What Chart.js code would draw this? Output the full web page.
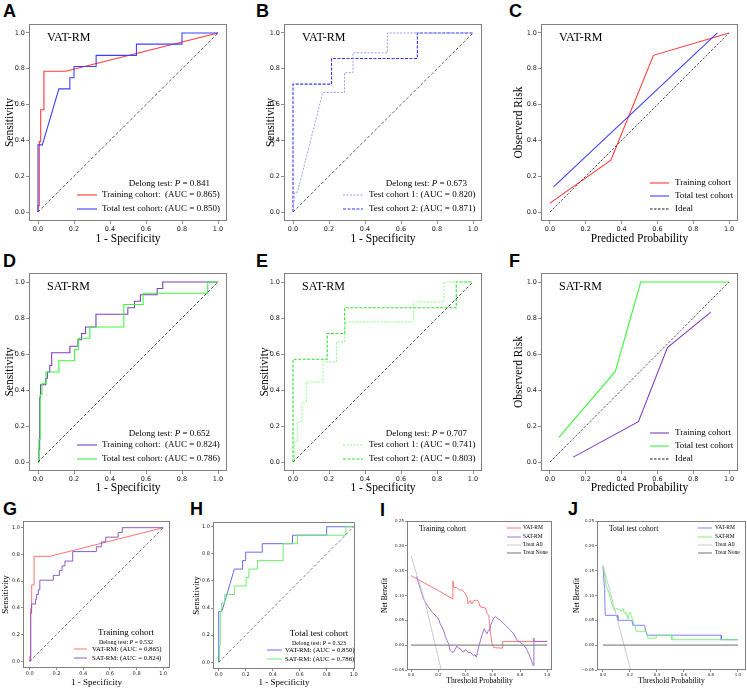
<!DOCTYPE html>
<html><head><meta charset="utf-8">
<script src="https://cdn.jsdelivr.net/npm/chart.js@4.4.1/dist/chart.umd.min.js"></script>
<style>
html,body{margin:0;padding:0;background:#fff;}
body{width:747px;height:688px;position:relative;overflow:hidden;}
canvas{position:absolute;}
.lt{position:absolute;font-family:"Liberation Sans",Arial,sans-serif;font-weight:bold;font-size:18px;line-height:18px;color:#000;}
</style></head><body>
<div class="lt" style="left:3px;top:1.6px">A</div>
<div class="lt" style="left:256px;top:1.6px">B</div>
<div class="lt" style="left:509px;top:1.6px">C</div>
<div class="lt" style="left:3px;top:252px">D</div>
<div class="lt" style="left:256px;top:252px">E</div>
<div class="lt" style="left:509px;top:252px">F</div>
<div class="lt" style="left:3px;top:500px">G</div>
<div class="lt" style="left:190px;top:500px">H</div>
<div class="lt" style="left:380px;top:501px">I</div>
<div class="lt" style="left:568px;top:500px">J</div>
<script>
// ---------- tick labels ----------
const rocTicks = [0, 0.2, 0.4, 0.6, 0.8, 1.0];
const rocTickLabels = ['0.0', '0.2', '0.4', '0.6', '0.8', '1.0'];
const nbTicks = [-0.05, 0, 0.05, 0.10, 0.15, 0.20, 0.25];
const nbTickLabels = ['\u22120.05', '0.00', '0.05', '0.10', '0.15', '0.20', '0.25'];

// ---------- reference diagonal ----------
const diagX = [0, 1];
const diagY = [0, 1];

// ---------- ROC: VAT-RM ----------
const vatTrainFpr = [0, 0, 0.007, 0.007, 0.015, 0.015, 0.033, 0.033, 0.153, 1.0];
const vatTrainTpr = [0, 0.036, 0.036, 0.393, 0.393, 0.571, 0.571, 0.786, 0.786, 1.0];
const vatTestFpr = [0, 0, 0.024, 0.116, 0.177, 0.177, 0.2, 0.2, 0.323, 0.323, 0.547, 0.547, 0.80, 0.80, 1.0];
const vatTestTpr = [0, 0.375, 0.375, 0.6875, 0.6875, 0.75, 0.75, 0.8125, 0.8125, 0.875, 0.875, 0.9375, 0.9375, 1.0, 1.0];
const vatTest1Fpr = [0, 0.01, 0.025, 0.165, 0.286, 0.286, 0.333, 0.333, 0.524, 0.524, 1.0];
const vatTest1Tpr = [0, 0.111, 0.111, 0.667, 0.667, 0.778, 0.778, 0.889, 0.889, 1.0, 1.0];
const vatTest2Fpr = [0, 0, 0.214, 0.214, 0.691, 0.691, 1.0];
const vatTest2Tpr = [0, 0.714, 0.714, 0.857, 0.857, 1.0, 1.0];

// ---------- ROC: SAT-RM ----------
const satTrainFpr = [0, 0.005, 0.005, 0.009, 0.009, 0.014, 0.014, 0.043, 0.043, 0.052, 0.052, 0.065, 0.065, 0.076, 0.076, 0.177, 0.177, 0.222, 0.222, 0.242, 0.242, 0.264, 0.264, 0.322, 0.322, 0.499, 0.499, 0.536, 0.536, 0.569, 0.569, 0.662, 0.662, 0.693, 0.693, 1.0];
const satTrainTpr = [0, 0, 0.071, 0.071, 0.357, 0.357, 0.429, 0.429, 0.464, 0.464, 0.5, 0.5, 0.536, 0.536, 0.607, 0.607, 0.643, 0.643, 0.679, 0.679, 0.714, 0.714, 0.75, 0.75, 0.821, 0.821, 0.857, 0.857, 0.893, 0.893, 0.929, 0.929, 0.964, 0.964, 1.0, 1.0];
const satTestFpr = [0, 0.005, 0.005, 0.012, 0.012, 0.022, 0.022, 0.045, 0.045, 0.116, 0.116, 0.203, 0.203, 0.224, 0.224, 0.288, 0.288, 0.477, 0.477, 0.584, 0.584, 0.943, 0.943, 1.0];
const satTestTpr = [0, 0, 0.125, 0.125, 0.375, 0.375, 0.4375, 0.4375, 0.5, 0.5, 0.5625, 0.5625, 0.625, 0.625, 0.6875, 0.6875, 0.75, 0.75, 0.875, 0.875, 0.9375, 0.9375, 1.0, 1.0];
const satTest1Fpr = [0, 0.009, 0.009, 0.024, 0.024, 0.05, 0.05, 0.074, 0.074, 0.167, 0.167, 0.241, 0.241, 0.287, 0.287, 0.67, 0.67, 0.839, 0.839, 1.0];
const satTest1Tpr = [0, 0, 0.111, 0.111, 0.222, 0.222, 0.333, 0.333, 0.444, 0.444, 0.556, 0.556, 0.667, 0.667, 0.778, 0.778, 0.889, 0.889, 1.0, 1.0];
const satTest2Fpr = [0, 0, 0.19, 0.19, 0.287, 0.287, 0.907, 0.907, 1.0];
const satTest2Tpr = [0, 0.571, 0.571, 0.714, 0.714, 0.857, 0.857, 1.0, 1.0];

// ---------- calibration ----------
const vatCalTrainPred = [0, 0.34, 0.578, 1.0];
const vatCalTrainObs = [0.05, 0.29, 0.875, 1.0];
const vatCalTestPred = [0.02, 0.935];
const vatCalTestObs = [0.14, 1.0];
const satCalTrainPred = [0.13, 0.494, 0.656, 0.898];
const satCalTrainObs = [0.027, 0.224, 0.636, 0.833];
const satCalTestPred = [0.05, 0.365, 0.507, 1.0];
const satCalTestObs = [0.137, 0.503, 1.0, 1.0];

// ---------- decision curves: training cohort ----------
const vatTrainNbThr = [0, 0.1, 0.2, 0.307, 0.307, 0.315, 0.337, 0.355, 0.373, 0.393, 0.41, 0.42, 0.435, 0.447, 0.46, 0.472, 0.484, 0.496, 0.509, 0.545, 0.558, 0.57, 0.582, 0.595, 0.607, 0.673, 0.673, 1.0];
const vatTrainNb = [0.14, 0.125, 0.11, 0.093, 0.129, 0.116, 0.116, 0.111, 0.111, 0.106, 0.097, 0.083, 0.09, 0.083, 0.09, 0.09, 0.091, 0.087, 0.077, 0.075, 0.064, 0.06, 0.026, 0.003, -0.005, -0.006, 0.0075, 0.0075];
const satTrainNbThr = [0.04, 0.07, 0.09, 0.103, 0.128, 0.15, 0.165, 0.19, 0.2, 0.214, 0.238, 0.25, 0.263, 0.275, 0.287, 0.3, 0.312, 0.325, 0.337, 0.35, 0.361, 0.375, 0.386, 0.398, 0.41, 0.422, 0.435, 0.447, 0.459, 0.47, 0.479, 0.496, 0.51, 0.521, 0.53, 0.538, 0.548, 0.558, 0.568, 0.577, 0.585, 0.595, 0.607, 0.619, 0.637, 0.656, 0.675, 0.693, 0.712, 0.73, 0.755, 0.779, 0.805, 0.828, 0.848, 0.865, 0.88, 0.897, 0.902, 0.902, 1.0];
const satTrainNb = [0.138, 0.112, 0.094, 0.087, 0.077, 0.068, 0.064, 0.056, 0.054, 0.043, 0.03, 0.02, 0.01, 0.003, -0.011, -0.014, -0.014, -0.008, -0.002, -0.006, -0.007, -0.012, -0.014, -0.009, -0.011, -0.016, -0.014, -0.018, -0.021, -0.019, -0.024, -0.004, 0.01, 0.02, 0.028, 0.033, 0.027, 0.023, 0.03, 0.03, 0.04, 0.047, 0.055, 0.057, 0.053, 0.05, 0.045, 0.04, 0.035, 0.03, 0.022, 0.01, 0.005, 0.0, -0.008, -0.018, -0.028, -0.041, 0.014, 0.0075, 0.0075];
const treatAllTrainThr = [0, 0.1, 0.2, 0.221];
const treatAllTrainNb = [0.18, 0.089, -0.025, -0.05];
const treatNoneThr = [0, 1];
const treatNoneNb = [0, 0];

// ---------- decision curves: total test cohort ----------
const vatTestNbThr = [0, 0.012, 0.017, 0.106, 0.111, 0.215, 0.222, 0.309, 0.314, 0.328, 0.877, 0.877, 1.0];
const vatTestNb = [0.158, 0.114, 0.06, 0.06, 0.05, 0.05, 0.04, 0.04, 0.03, 0.02, 0.02, 0.011, 0.011];
const satTestNbThr = [0, 0.012, 0.025, 0.037, 0.049, 0.062, 0.074, 0.086, 0.099, 0.123, 0.136, 0.148, 0.16, 0.173, 0.185, 0.198, 0.21, 0.222, 0.235, 0.247, 0.321, 0.333, 0.395, 0.395, 0.511, 0.511, 1.0];
const satTestNb = [0.158, 0.142, 0.118, 0.111, 0.101, 0.087, 0.077, 0.07, 0.074, 0.072, 0.068, 0.074, 0.064, 0.066, 0.053, 0.067, 0.06, 0.05, 0.04, 0.028, 0.028, 0.014, 0.014, 0.02, 0.02, 0.011, 0.011];
const treatAllTestThr = [0, 0.205];
const treatAllTestNb = [0.162, -0.05];

// ---------- styling ----------
const SERIF = '"Liberation Serif","Times New Roman",serif';
const SANS = '"DejaVu Sans",sans-serif';
const C = {
  red: '#ff3a3a', blue: '#4040ff', purple: '#7f3fbf', green: '#3cf53c',
  blueLight: '#9c9cff', blueDash: '#3535ff', greenLight: '#8cff8c', greenDash: '#33e033',
  salmon: '#ff7373', purpleG: '#8c5acb', blueH: '#6a6aff', greenH: '#6cef6c',
  redI: '#ff6a6a', purpleI: '#9562d2', blueJ: '#7373ff', greenJ: '#70f070',
  treatAll: '#c4c4c4', treatNone: '#8a8a8a', diag: '#333'
};

function line(xs, ys, color, width, dash) {
  return { data: xs.map((x, i) => ({ x: x, y: ys[i] })), borderColor: color, borderWidth: width,
    borderDash: dash || [], pointRadius: 0, fill: false, tension: 0 };
}
const T = (segs, ax, dx, ay, dy, size, align) => ({ segs, ax, dx, ay, dy, size, align });
const L = (color, dash, width, ax, dx, len, ay, dy) => ({ line: { color, dash, width }, ax, dx, len, ay, dy });
const P = (txt) => [[txt, 0]];
const D = (p) => [['Delong test: ', 0], ['P', 1], [' = ' + p, 0]];

const deco = {
  id: 'deco',
  afterDatasetsDraw(chart) {
    const ctx = chart.ctx, ca = chart.chartArea;
    const items = chart.canvas._deco || [];
    ctx.save();
    ctx.strokeStyle = '#808080'; ctx.lineWidth = 1; ctx.setLineDash([]);
    ctx.strokeRect(ca.left + 0.5, ca.top + 0.5, ca.right - ca.left - 1, ca.bottom - ca.top - 1);
    items.forEach(it => {
      const x = (it.ax === 'r' ? ca.right : ca.left) + it.dx;
      const y = (it.ay === 'b' ? ca.bottom : ca.top) + it.dy;
      if (it.line) {
        ctx.beginPath(); ctx.setLineDash(it.line.dash || []);
        ctx.strokeStyle = it.line.color; ctx.lineWidth = it.line.width;
        ctx.moveTo(x, y); ctx.lineTo(x + it.len, y); ctx.stroke(); ctx.setLineDash([]);
      } else {
        const fonts = it.segs.map(s => (s[1] ? 'italic ' : '') + it.size + 'px ' + SERIF);
        const widths = it.segs.map((s, i) => { ctx.font = fonts[i]; return ctx.measureText(s[0]).width; });
        const total = widths.reduce((a, b) => a + b, 0);
        let sx = it.align === 'right' ? x - total : (it.align === 'center' ? x - total / 2 : x);
        ctx.textBaseline = 'middle'; ctx.textAlign = 'left'; ctx.fillStyle = '#000';
        it.segs.forEach((s, i) => { ctx.font = fonts[i]; ctx.fillText(s[0], sx, y); sx += widths[i]; });
      }
    });
    ctx.restore();
  }
};

const BIG = { tick: 6.5, tickLen: 3, tickPad: 1, title: 11.5, lw: 1.1 };
const SMALL = { tick: 5, tickLen: 2, tickPad: 1, title: 9, lw: 1.0 };
const TINY = { tick: 4, tickLen: 2, tickPad: 1, title: 7.6, lw: 0.9 };

function rocLegend(label, p, n1, c1, d1, n2, c2, d2, lx, tx, tr) {
  return [
    T(P(label), 'l', 18, 't', 14, 12, 'left'),
    T(D(p), 'r', tr, 'b', -37, 9, 'right'),
    L(c1, d1, 1.1, 'r', lx, 20, 'b', -26), T(P(n1), 'r', tx, 'b', -26, 9, 'left'),
    L(c2, d2, 1.1, 'r', lx, 20, 'b', -12), T(P(n2), 'r', tx, 'b', -12, 9, 'left')
  ];
}
function calLegend(label, c1, c2) {
  return [
    T(P(label), 'l', 18, 't', 14, 12, 'left'),
    L(c1, [], 1.1, 'r', -88, 19, 'b', -38), T(P('Training cohort'), 'r', -63, 'b', -38, 9, 'left'),
    L(c2, [], 1.1, 'r', -88, 19, 'b', -25), T(P('Total test cohort'), 'r', -63, 'b', -25, 9, 'left'),
    L('#000', [2.5, 1.5], 0.9, 'r', -88, 19, 'b', -12), T(P('Ideal'), 'r', -63, 'b', -12, 9, 'left')
  ];
}
function cmpLegend(title, p, c1, n1, c2, n2, cx, lx, len, tx) {
  return [
    T(P(title), 'r', cx, 'b', -35, 9, 'center'),
    T(D(p), 'r', cx, 'b', -26, 6, 'center'),
    L(c1, [], 1, 'r', lx, len, 'b', -19), T(P(n1), 'r', tx, 'b', -19, 6.8, 'left'),
    L(c2, [], 1, 'r', lx, len, 'b', -10), T(P(n2), 'r', tx, 'b', -10, 6.8, 'left')
  ];
}
function dcaLegend(title, c1, c2, lx, tx) {
  return [
    T(P(title), 'l', 12, 't', 8, 7.6, 'left'),
    L(c1, [], 0.9, 'r', lx, 14, 't', 7), T(P('VAT-RM'), 'r', tx, 't', 7, 5.5, 'left'),
    L(c2, [], 0.9, 'r', lx, 14, 't', 16), T(P('SAT-RM'), 'r', tx, 't', 16, 5.5, 'left'),
    L(C.treatAll, [], 0.9, 'r', lx, 14, 't', 24), T(P('Treat All'), 'r', tx, 't', 24, 5.5, 'left'),
    L(C.treatNone, [], 1.2, 'r', lx, 14, 't', 32), T(P('Treat None'), 'r', tx, 't', 32, 5.5, 'left')
  ];
}
const diag = (w) => line(diagX, diagY, C.diag, w, [3, 2]);

const panels = [
  { left: 0, top: 0, w: 240, h: 250, box: [29, 24, 227, 221], st: BIG, xr: [-0.05, 1.05], yr: [-0.05, 1.05],
    xTitle: '1 - Specificity', yTitle: 'Sensitivity', xTitleY: 239, yTitleX: 10,
    ds: [diag(0.8), line(vatTestFpr, vatTestTpr, C.blue, 1.1), line(vatTrainFpr, vatTrainTpr, C.red, 1.1)],
    items: rocLegend('VAT-RM', '0.841', 'Training cohort:  (AUC = 0.865)', C.red, [], 'Total test cohort: (AUC = 0.850)', C.blue, [], -150, -125, -17) },
  { left: 245, top: 0, w: 250, h: 250, box: [284, 24, 482, 221], st: BIG, xr: [-0.05, 1.05], yr: [-0.05, 1.05],
    xTitle: '1 - Specificity', yTitle: 'Sensitivity', xTitleY: 239, yTitleX: 271,
    ds: [diag(0.8), line(vatTest1Fpr, vatTest1Tpr, C.blueLight, 1.0, [2, 1.5]), line(vatTest2Fpr, vatTest2Tpr, C.blueDash, 1.1, [3, 1.5])],
    items: rocLegend('VAT-RM', '0.673', 'Test cohort 1: (AUC = 0.820)', C.blueLight, [2, 1.5], 'Test cohort 2: (AUC = 0.871)', C.blueDash, [3, 1.5], -139, -113, -15) },
  { left: 495, top: 0, w: 252, h: 250, box: [541, 24, 738, 221], st: BIG, xr: [-0.05, 1.05], yr: [-0.05, 1.05],
    xTitle: 'Predicted Probability', yTitle: 'Observerd Risk', xTitleY: 239, yTitleX: 519,
    ds: [line(diagX, diagY, C.diag, 0.8, [2.5, 1.5]), line(vatCalTestPred, vatCalTestObs, C.blue, 1.1), line(vatCalTrainPred, vatCalTrainObs, C.red, 1.1)],
    items: calLegend('VAT-RM', C.red, C.blue) },
  { left: 0, top: 249, w: 240, h: 250, box: [29, 273, 227, 471], st: BIG, xr: [-0.05, 1.05], yr: [-0.05, 1.05],
    xTitle: '1 - Specificity', yTitle: 'Sensitivity', xTitleY: 488, yTitleX: 10,
    ds: [diag(0.8), line(satTestFpr, satTestTpr, C.green, 1.1), line(satTrainFpr, satTrainTpr, C.purple, 1.1)],
    items: rocLegend('SAT-RM', '0.652', 'Training cohort:  (AUC = 0.824)', C.purple, [], 'Total test cohort: (AUC = 0.786)', C.green, [], -150, -125, -17) },
  { left: 245, top: 249, w: 250, h: 250, box: [284, 273, 482, 471], st: BIG, xr: [-0.05, 1.05], yr: [-0.05, 1.05],
    xTitle: '1 - Specificity', yTitle: 'Sensitivity', xTitleY: 488, yTitleX: 265,
    ds: [diag(0.8), line(satTest1Fpr, satTest1Tpr, C.greenLight, 1.0, [2, 1.5]), line(satTest2Fpr, satTest2Tpr, C.greenDash, 1.1, [3, 1.5])],
    items: rocLegend('SAT-RM', '0.707', 'Test cohort 1: (AUC = 0.741)', C.greenLight, [2, 1.5], 'Test cohort 2: (AUC = 0.803)', C.greenDash, [3, 1.5], -139, -113, -15) },
  { left: 495, top: 249, w: 252, h: 250, box: [541, 273, 738, 471], st: BIG, xr: [-0.05, 1.05], yr: [-0.05, 1.05],
    xTitle: 'Predicted Probability', yTitle: 'Observerd Risk', xTitleY: 488, yTitleX: 519,
    ds: [line(diagX, diagY, C.diag, 0.8, [2.5, 1.5]), line(satCalTestPred, satCalTestObs, C.green, 1.1), line(satCalTrainPred, satCalTrainObs, C.purple, 1.1)],
    items: calLegend('SAT-RM', C.purple, C.green) },
  { left: 0, top: 500, w: 180, h: 188, box: [23, 521, 170, 668], st: SMALL, xr: [-0.05, 1.05], yr: [-0.05, 1.05],
    xTitle: '1 - Specificity', yTitle: 'Sensitivity', xTitleY: 683, yTitleX: 5,
    ds: [diag(0.6), line(satTrainFpr, satTrainTpr, C.purpleG, 1.0), line(vatTrainFpr, vatTrainTpr, C.salmon, 1.0)],
    items: cmpLegend('Training cohort', '0.532', C.salmon, 'VAT-RM: (AUC = 0.865)', C.purpleG, 'SAT-RM: (AUC = 0.824)', -44, -96, 13, -78) },
  { left: 185, top: 500, w: 180, h: 188, box: [213, 522, 355, 669], st: SMALL, xr: [-0.042, 1.01], yr: [-0.05, 1.035],
    xTitle: '1 - Specificity', yTitle: 'Sensitivity', xTitleY: 683, yTitleX: 197,
    ds: [diag(0.6), line(satTestFpr, satTestTpr, C.greenH, 1.0), line(vatTestFpr, vatTestTpr, C.blueH, 1.0)],
    items: cmpLegend('Total test cohort', '0.323', C.blueH, 'VAT-RM: (AUC = 0.850)', C.greenH, 'SAT-RM: (AUC = 0.786)', -36, -88, 15, -70) },
  { left: 370, top: 500, w: 190, h: 188, box: [407, 521, 552, 670], st: TINY, xr: [-0.03, 1.035], yr: [-0.05, 0.25], nb: true,
    xTitle: 'Threshold Probability', yTitle: 'Net Benefit', xTitleY: 681, yTitleX: 385,
    ds: [line(treatNoneThr, treatNoneNb, C.treatNone, 1.2), line(treatAllTrainThr, treatAllTrainNb, C.treatAll, 0.9),
         line(satTrainNbThr, satTrainNb, C.purpleI, 0.9), line(vatTrainNbThr, vatTrainNb, C.redI, 0.9)],
    items: dcaLegend('Training cohort', C.redI, C.purpleI, -45, -29) },
  { left: 560, top: 500, w: 187, h: 188, box: [597, 521, 746, 670], st: TINY, xr: [-0.044, 1.06], yr: [-0.05, 0.25], nb: true,
    xTitle: 'Threshold Probability', yTitle: 'Net Benefit', xTitleY: 681, yTitleX: 577,
    ds: [line(treatNoneThr, treatNoneNb, C.treatNone, 1.2), line(treatAllTestThr, treatAllTestNb, C.treatAll, 0.9),
         line(satTestNbThr, satTestNb, C.greenJ, 0.9), line(vatTestNbThr, vatTestNb, C.blueJ, 0.9)],
    items: dcaLegend('Total test cohort', C.blueJ, C.greenJ, -48, -31) }
];

panels.forEach(p => {
  const cv = document.createElement('canvas');
  cv.width = p.w; cv.height = p.h;
  cv.style.left = p.left + 'px'; cv.style.top = p.top + 'px';
  cv.style.width = p.w + 'px'; cv.style.height = p.h + 'px';
  document.body.appendChild(cv);
  cv._deco = p.items;
  const [bl, bt, br, bb] = p.box;
  const st = p.st;
  const lh = st.title * 1.2;
  const tickFont = { family: SANS, size: st.tick };
  const titleFont = { family: SERIF, size: st.title };
  const mk = (min, max, ticks, labels) => ({
    type: 'linear', min: min, max: max,
    afterBuildTicks: s => { s.ticks = ticks.map(v => ({ value: v })); },
    ticks: { font: tickFont, color: '#222', padding: st.tickPad, autoSkip: false, maxRotation: 0, minRotation: 0,
      callback: (v, i) => labels[i] },
    grid: { display: true, drawOnChartArea: false, drawTicks: true, tickLength: st.tickLen, color: '#444', lineWidth: 0.6 },
    border: { display: false }
  });
  const xs = mk(p.xr[0], p.xr[1], rocTicks, rocTickLabels);
  const ys = p.nb ? mk(p.yr[0], p.yr[1], nbTicks, nbTickLabels) : mk(p.yr[0], p.yr[1], rocTicks, rocTickLabels);
  xs.position = 'bottom';
  xs.afterFit = s => { s.height = p.top + p.h - bb; };
  xs.title = { display: true, text: p.xTitle, font: titleFont, color: '#000',
    padding: { top: 0, bottom: Math.max(0, p.top + p.h - p.xTitleY - lh / 2) } };
  ys.position = 'left';
  ys.afterFit = s => { s.width = bl - p.left; };
  ys.title = { display: true, text: p.yTitle, font: titleFont, color: '#000',
    padding: { top: Math.max(0, p.yTitleX - p.left - lh / 2), bottom: 0 } };
  new Chart(cv.getContext('2d'), {
    type: 'line',
    data: { datasets: p.ds },
    options: {
      responsive: false, animation: false, events: [], devicePixelRatio: 1,
      layout: { padding: { left: 0, bottom: 0, top: bt - p.top, right: p.left + p.w - br } },
      plugins: { legend: { display: false }, tooltip: { enabled: false } },
      scales: { x: xs, y: ys }
    },
    plugins: [deco]
  });
});
</script>
</body></html>
